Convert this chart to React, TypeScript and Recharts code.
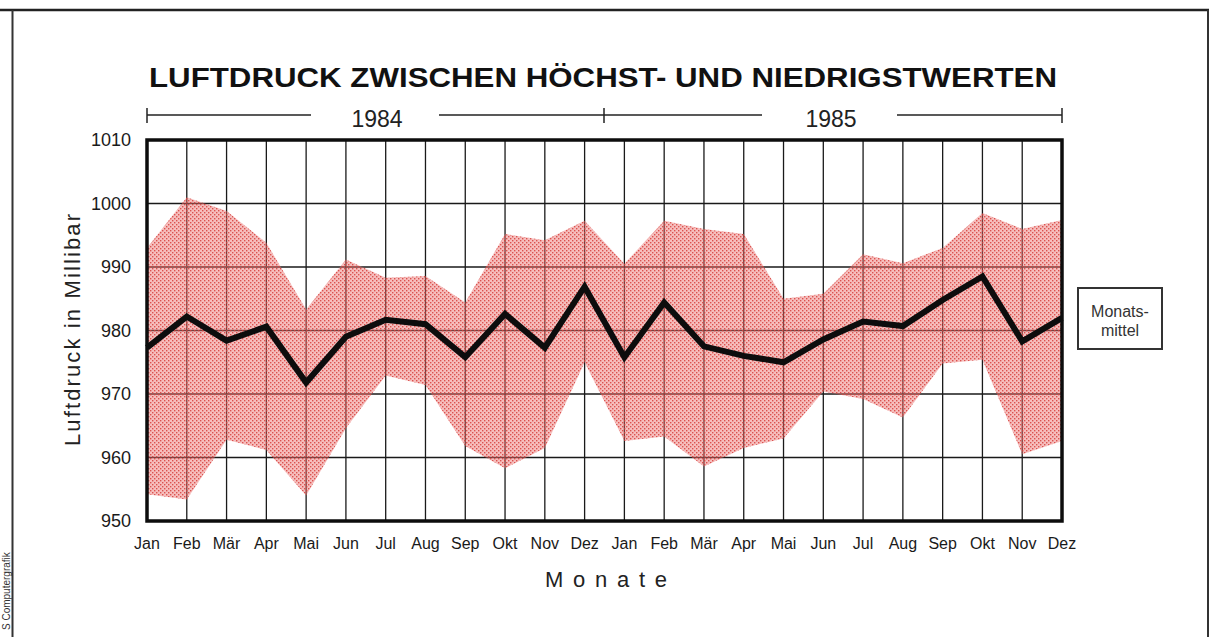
import React from 'react';
import { ComposedChart, Area, Line, XAxis, YAxis, CartesianGrid } from 'recharts';

const months = [
  'Jan', 'Feb', 'Mär', 'Apr', 'Mai', 'Jun', 'Jul', 'Aug', 'Sep', 'Okt', 'Nov', 'Dez',
  'Jan', 'Feb', 'Mär', 'Apr', 'Mai', 'Jun', 'Jul', 'Aug', 'Sep', 'Okt', 'Nov', 'Dez',
];
const monthlyMean = [
  977.3, 982.2, 978.4, 980.6, 971.8, 979.0, 981.7, 981.0, 975.8, 982.6, 977.3, 986.9,
  975.8, 984.4, 977.5, 976.0, 975.0, 978.6, 981.4, 980.7, 984.8, 988.5, 978.3, 982.0,
];
const monthlyHigh = [
  993.0, 1001.0, 998.8, 993.8, 983.3, 991.2, 988.3, 988.6, 984.4, 995.2, 994.2, 997.3,
  990.5, 997.3, 996.0, 995.2, 985.0, 985.8, 992.0, 990.6, 993.0, 998.5, 996.0, 997.4,
];
const monthlyLow = [
  954.2, 953.4, 962.8, 961.2, 954.0, 964.6, 972.9, 971.4, 961.8, 958.3, 961.5, 975.0,
  962.6, 963.3, 958.6, 961.5, 963.0, 970.4, 969.2, 966.3, 974.8, 975.4, 960.5, 962.6,
];
const yTicks = [950, 960, 970, 980, 990, 1000, 1010];
const years = ['1984', '1985'];

const data = months.map((m, i) => ({
  i,
  month: m,
  mean: monthlyMean[i],
  range: [monthlyLow[i], monthlyHigh[i]],
}));
const xTicks = months.map((_, i) => i);

const FONT = '"Liberation Sans", Arial, Helvetica, sans-serif';

// plot box in page pixels
const PL = 147;
const PR = 1062;
const PT = 140;
const PB = 521;

export default function App() {
  return (
    <div style={{ position: 'absolute', left: 0, top: 0, width: 1218, height: 637, background: '#fff' }}>
      <ComposedChart
        width={1218}
        height={637}
        data={data}
        margin={{ top: PT, right: 1218 - PR, bottom: 86, left: 87 }}
      >
        <defs>
          <pattern id="dots" width="4" height="4" patternUnits="userSpaceOnUse">
            <rect width="4" height="4" fill="rgb(236,112,108)" fillOpacity={0.45} />
            <rect x="0" y="0" width="1.4" height="1.4" fill="rgb(214,64,60)" fillOpacity={0.85} />
            <rect x="2" y="2" width="1.4" height="1.4" fill="rgb(214,64,60)" fillOpacity={0.85} />
          </pattern>
        </defs>
        <CartesianGrid stroke="#1a1a1a" strokeWidth={1.3} />
        <XAxis
          type="number"
          dataKey="i"
          domain={[0, 23]}
          ticks={xTicks}
          interval={0}
          height={30}
          axisLine={false}
          tickLine={false}
          tickSize={0}
          tickMargin={17}
          tickFormatter={(v: number) => months[v]}
          tick={{ fill: '#1a1a1a', fontSize: 16, fontFamily: FONT }}
        />
        <YAxis
          type="number"
          domain={[950, 1010]}
          ticks={yTicks}
          width={60}
          axisLine={false}
          tickLine={false}
          tickSize={0}
          tickMargin={16}
          tick={{ fill: '#1a1a1a', fontSize: 18, fontFamily: FONT }}
        />
        <Area
          dataKey="range"
          type="linear"
          stroke="none"
          fill="url(#dots)"
          fillOpacity={1}
          isAnimationActive={false}
          activeDot={false}
        />
        <Line
          dataKey="mean"
          type="linear"
          stroke="#0d0d0d"
          strokeWidth={6}
          strokeLinejoin="miter"
          dot={false}
          activeDot={false}
          isAnimationActive={false}
        />
      </ComposedChart>

      <svg
        width={1218}
        height={637}
        style={{ position: 'absolute', left: 0, top: 0, pointerEvents: 'none' }}
        fontFamily={FONT}
      >
        {/* outer frame */}
        <line x1={0} y1={10} x2={1209} y2={10} stroke="#222" strokeWidth={2.5} />
        <line x1={12.5} y1={10} x2={12.5} y2={637} stroke="#333" strokeWidth={2} />
        <line x1={1208} y1={10} x2={1208} y2={637} stroke="#333" strokeWidth={2} />
        <text x={10} y={630} transform="rotate(-90 10 630)" fontSize={10} fill="#333">
          S Computergrafik
        </text>

        {/* title */}
        <text
          x={PL + 2}
          y={87}
          fontSize={27}
          fontWeight="bold"
          fill="#111"
          textLength={908}
          lengthAdjust="spacingAndGlyphs"
        >
          LUFTDRUCK  ZWISCHEN  HÖCHST-  UND  NIEDRIGSTWERTEN
        </text>

        {/* year brackets */}
        <g stroke="#222" strokeWidth={1.5}>
          <line x1={PL} y1={115} x2={311} y2={115} />
          <line x1={439} y1={115} x2={762} y2={115} />
          <line x1={897} y1={115} x2={PR} y2={115} />
          <line x1={PL} y1={108} x2={PL} y2={123} />
          <line x1={604} y1={108} x2={604} y2={123} />
          <line x1={PR} y1={108} x2={PR} y2={123} />
        </g>
        <text x={377} y={127} fontSize={23} fill="#222" textAnchor="middle">{years[0]}</text>
        <text x={831} y={127} fontSize={23} fill="#222" textAnchor="middle">{years[1]}</text>

        {/* plot frame */}
        <rect x={PL} y={PT} width={PR - PL} height={PB - PT} fill="none" stroke="#0d0d0d" strokeWidth={3.5} />

        {/* axis titles */}
        <text
          x={80}
          y={330}
          transform="rotate(-90 80 330)"
          fontSize={22}
          fill="#222"
          textAnchor="middle"
          textLength={232}
          lengthAdjust="spacing"
        >
          Luftdruck in Millibar
        </text>
        <text x={606} y={587} fontSize={22} fill="#222" textAnchor="middle" textLength={122} lengthAdjust="spacing">
          Monate
        </text>

        {/* legend */}
        <rect x={1078} y={288} width={84} height={61} fill="#fff" stroke="#333" strokeWidth={2} />
        <text x={1120} y={317} fontSize={16} fill="#333" textAnchor="middle">Monats-</text>
        <text x={1120} y={336} fontSize={16} fill="#333" textAnchor="middle">mittel</text>
      </svg>
    </div>
  );
}
